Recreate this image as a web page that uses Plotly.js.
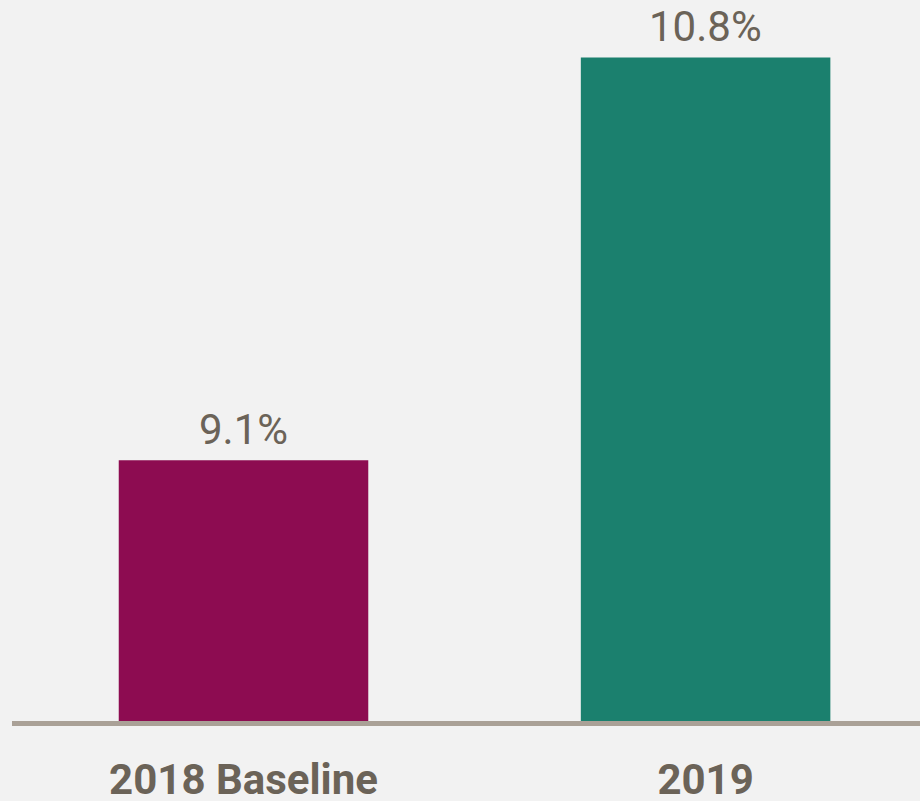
<!DOCTYPE html>
<html>
<head>
<meta charset="utf-8">
<script src="https://cdn.plot.ly/plotly-3.0.1.min.js"></script>
<style>html,body{margin:0;padding:0;background:#f2f2f2;}#chart{width:920px;height:801px;}</style>
</head>
<body>
<div id="chart"></div>
<script>
const categories = ["2018 Baseline", "2019"];
const values = [9.1, 10.8];
const labels = ["9.1%", "10.8%"];
const colors = ["#8d0c51", "#1b806e"];
const axisBase = 8;

const trace = {
  type: "bar",
  x: categories,
  y: values.map(v => v - axisBase),
  base: axisBase,
  width: 0.54,
  marker: {color: colors, line: {width: 0}},
  hoverinfo: "none"
};

const annotations = categories.map((c, i) => ({
  x: i, y: values[i], xref: "x", yref: "y",
  text: labels[i], showarrow: false, yanchor: "bottom", yshift: 4,
  font: {family: "Roboto, sans-serif", size: 42, color: "#6b6358"}
}));

const layout = {
  width: 920, height: 801,
  paper_bgcolor: "#f2f2f2", plot_bgcolor: "#f2f2f2",
  margin: {l: 12, r: 0, t: 10, b: 80},
  showlegend: false,
  xaxis: {
    type: "category", range: [-0.501, 1.464],
    showline: true, linecolor: "#aaa197", linewidth: 5,
    showgrid: false, zeroline: false, ticks: "",
    ticklabelstandoff: 18,
    tickfont: {family: "Roboto, sans-serif", size: 42, color: "#6b6358", weight: "bold"}
  },
  yaxis: {
    range: [8, 11], showgrid: false, zeroline: false, showticklabels: false,
    showline: false, ticks: ""
  },
  annotations: annotations
};

Plotly.newPlot("chart", [trace], layout, {displayModeBar: false, staticPlot: true});
</script>
</body>
</html>
